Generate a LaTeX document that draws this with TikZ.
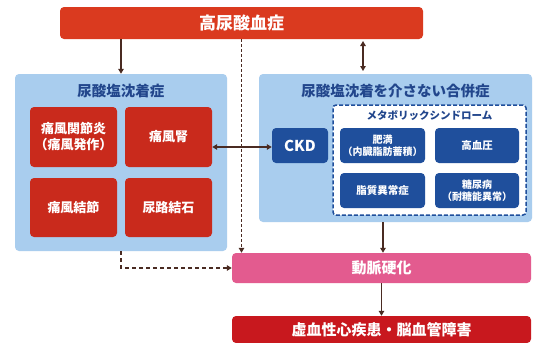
\documentclass[tikz,border=0pt]{standalone}
\usepackage{fontspec}
\setmainfont{Noto Sans CJK JP}[BoldFont={Noto Sans CJK JP Black}]
\usetikzlibrary{arrows.meta}
\definecolor{topred}{HTML}{DA3A1F}
\definecolor{boxred}{HTML}{C92A1C}
\definecolor{botred}{HTML}{C8181E}
\definecolor{dkblue}{HTML}{1F4F9C}
\definecolor{ltblue}{HTML}{A9CDEE}
\definecolor{ttlblue}{HTML}{22468C}
\definecolor{pinkc}{HTML}{E35B8F}
\definecolor{arrc}{HTML}{4A2B22}
\begin{document}
\begin{tikzpicture}[x=1pt,y=-1pt,
  every node/.style={font=\bfseries, inner sep=0pt, align=center},
  filled/.style={rounded corners=4pt, draw=none},
  redbox/.style={filled, fill=boxred, text=white, minimum width=87pt, minimum height=60pt, font=\fontsize{13}{16}\selectfont\bfseries},
  bluebox/.style={filled, fill=dkblue, text=white, minimum width=85pt, minimum height=35pt, font=\fontsize{10}{12.5}\selectfont\bfseries},
  bgbox/.style={filled, fill=ltblue},
  ttl/.style={text=ttlblue, font=\fontsize{14.5}{16}\selectfont\bfseries},
  arr/.style={draw=arrc, line width=1.5pt, -{Triangle[length=5pt,width=5.5pt]}},
  darr/.style={arr, {Triangle[length=5pt,width=5.5pt]}-{Triangle[length=5pt,width=5.5pt]}},
  dotarr/.style={arr, dash pattern=on 3pt off 2pt},
  dasharr/.style={arr, dash pattern=on 4pt off 3pt}
]
\useasboundingbox (0,0) rectangle (542,343);
\fill[white] (0,0) rectangle (542,343);

\node[filled, fill=topred, text=white, minimum width=363pt, minimum height=32pt, font=\fontsize{17}{20}\selectfont\bfseries] (top) at (241.5,23) {高尿酸血症};

\node[bgbox, minimum width=212pt, minimum height=177pt] (lbg) at (121,162.5) {};
\node[ttl] (lttl) at (121,91) {尿酸塩沈着症};
\node[redbox] (kan) at (73.5,137) {痛風関節炎\\（痛風発作）};
\node[redbox] (jin) at (168.5,137) {痛風腎};
\node[redbox, minimum height=59pt] (kes) at (73.5,207.5) {痛風結節};
\node[redbox, minimum height=59pt] (rok) at (168.5,207.5) {尿路結石};

\node[bgbox, minimum width=273pt, minimum height=148pt] (rbg) at (395.5,148) {};
\node[ttl] (rttl) at (395.5,91) {尿酸塩沈着を介さない合併症};
\node[filled, fill=dkblue, text=white, minimum width=56pt, minimum height=35pt, font=\fontsize{15}{18}\selectfont\bfseries] (ckd) at (300,145.5) {CKD};
\node[draw=dkblue, fill=white, line width=1.5pt, dash pattern=on 4pt off 2pt, rounded corners=3pt, minimum width=193pt, minimum height=110pt] (meta) at (429.5,160) {};
\node[text=ttlblue, font=\fontsize{10.5}{12}\selectfont\bfseries] (mttl) at (429.5,116) {メタボリックシンドローム};
\node[bluebox] (him) at (382.5,145.5) {肥満\\（内臓脂肪蓄積）};
\node[bluebox, minimum width=84pt, font=\fontsize{10.5}{12.5}\selectfont\bfseries] (kou) at (477,145.5) {高血圧};
\node[bluebox, font=\fontsize{10.5}{12.5}\selectfont\bfseries] (shi) at (382.5,190.5) {脂質異常症};
\node[bluebox, minimum width=84pt] (tou) at (477,190.5) {糖尿病\\（耐糖能異常）};

\node[filled, fill=pinkc, text=white, minimum width=299pt, minimum height=30pt, font=\fontsize{15}{18}\selectfont\bfseries] (ath) at (381.5,268) {動脈硬化};
\node[filled, fill=botred, text=white, minimum width=299pt, minimum height=27pt, font=\fontsize{15}{18}\selectfont\bfseries] (bot) at (381.5,329.5) {虚血性心疾患・脳血管障害};

\coordinate (b1) at (363,41);
\coordinate (b2) at (363,71);
\draw[arr] (top.south -| lbg.north) -- (lbg.north);
\draw[darr] (b1) -- (b2);
\draw[dotarr] (top.south) -- (top.south |- ath.north);
\draw[darr] (jin.east |- 0,147) -- (ckd.west |- 0,147);
\draw[arr] (rbg.south -| 383,0) -- (ath.north -| 383,0);
\draw[arr] (ath.south) -- (bot.north);
\draw[dasharr] (lbg.south) |- (ath.west);
\end{tikzpicture}
\end{document}
